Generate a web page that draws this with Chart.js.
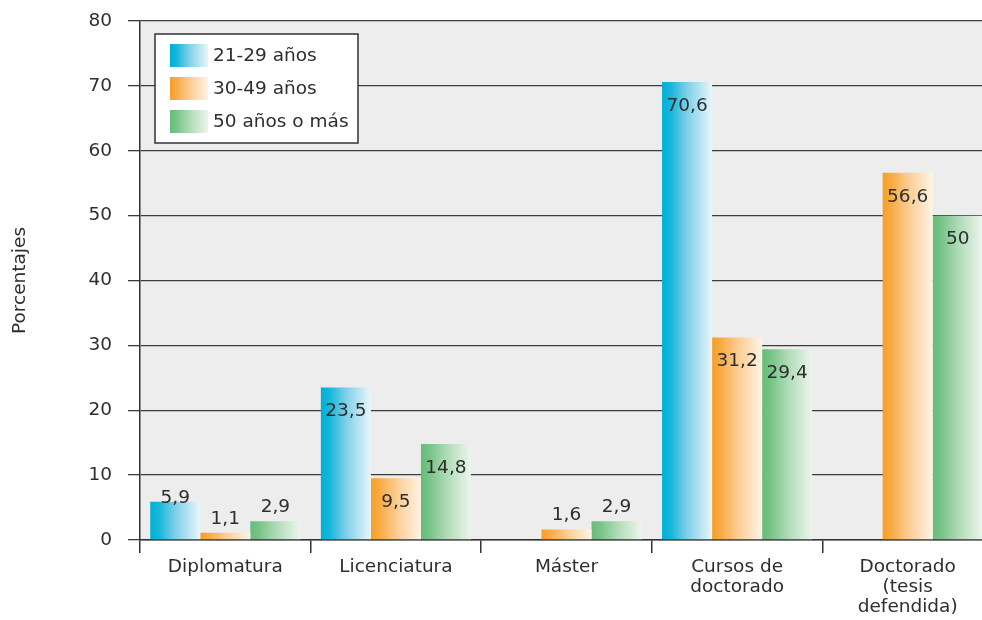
<!DOCTYPE html>
<html><head><meta charset="utf-8">
<script src="https://cdn.jsdelivr.net/npm/chart.js@4"></script>
<style>html,body{margin:0;padding:0;background:#fff;overflow:hidden}#wrap{width:993px;height:620px;position:relative}</style>
</head><body><div id="wrap"><canvas id="c"></canvas></div>
<script>
// ---- data ----
const categories = [["Diplomatura"], ["Licenciatura"], ["Máster"], ["Cursos de", "doctorado"], ["Doctorado", "(tesis", "defendida)"]];
const seriesNames = ["21-29 años", "30-49 años", "50 años o más"];
const values2129 = [5.9, 23.5, null, 70.6, null];
const values3049 = [1.1, 9.5, 1.6, 31.2, 56.6];
const values50 = [2.9, 14.8, 2.9, 29.4, 50];
const yMin = 0, yMax = 80, yStep = 10;
const yTitle = "Porcentajes";

// ---- styles ----
const FONT = "'DejaVu Sans', sans-serif";
const FS = 18.5;
const TXT = '#2e2e2e';
const gradStops = [
  [[0, '#00b0d6'], [0.18, '#16b7da'], [0.5, '#7fcfe8'], [1, '#e9f6fb']],
  [[0, '#f79f26'], [0.18, '#f8ab45'], [0.5, '#fbcb8f'], [1, '#fff4e6']],
  [[0, '#66bd78'], [0.18, '#78c488'], [0.5, '#acdab4'], [1, '#edf6ed']]
];
const baseColors = ['#00b0d6', '#f79f26', '#66bd78'];

function makeGrad(ctx, x0, x1, stops) {
  const g = ctx.createLinearGradient(x0, 0, x1, 0);
  stops.forEach(s => g.addColorStop(s[0], s[1]));
  return g;
}

const plotBg = {
  id: 'plotBg',
  beforeDraw(chart) {
    const {ctx, chartArea: a} = chart;
    ctx.save();
    ctx.fillStyle = '#ededed';
    ctx.fillRect(a.left, a.top, a.right - a.left, a.bottom - a.top);
    ctx.restore();
  }
};

const barGrad = {
  id: 'barGrad',
  beforeDatasetsDraw(chart) {
    const ctx = chart.ctx;
    chart.data.datasets.forEach((ds, di) => {
      chart.getDatasetMeta(di).data.forEach(el => {
        if (!el || el.x == null || isNaN(el.x)) return;
        el.options.backgroundColor = makeGrad(ctx, el.x - el.width / 2, el.x + el.width / 2, gradStops[di]);
      });
    });
  }
};

const valueLabels = {
  id: 'valueLabels',
  afterDatasetsDraw(chart) {
    const ctx = chart.ctx;
    ctx.save();
    ctx.font = FS + 'px ' + FONT;
    ctx.fillStyle = TXT;
    ctx.textAlign = 'center';
    ctx.textBaseline = 'middle';
    chart.data.datasets.forEach((ds, di) => {
      chart.getDatasetMeta(di).data.forEach((el, i) => {
        const v = ds.data[i];
        if (v == null) return;
        const h = el.base - el.y;
        let y;
        if (h > 45) y = el.y + 24;
        else if (h > 30) y = el.y - 4;
        else y = el.y - 14;
        ctx.fillText(String(v).replace('.', ','), el.x, y);
      });
    });
    ctx.restore();
  }
};

const boxLegend = {
  id: 'boxLegend',
  afterDatasetsDraw(chart) {
    const {ctx, chartArea: a} = chart;
    const bx = a.left + 15, by = a.top + 13, bw = 203, bh = 109;
    ctx.save();
    ctx.fillStyle = '#ffffff';
    ctx.fillRect(bx, by, bw, bh);
    ctx.strokeStyle = '#333333';
    ctx.lineWidth = 1.5;
    ctx.strokeRect(bx, by, bw, bh);
    ctx.font = FS + 'px ' + FONT;
    ctx.textBaseline = 'middle';
    ctx.textAlign = 'left';
    seriesNames.forEach((name, i) => {
      const sx = bx + 15, sy = by + 10 + i * 33, sw = 38, sh = 23;
      ctx.fillStyle = makeGrad(ctx, sx, sx + sw, gradStops[i]);
      ctx.fillRect(sx, sy, sw, sh);
      ctx.fillStyle = TXT;
      ctx.fillText(name, sx + sw + 5, sy + sh / 2 + 1);
    });
    ctx.restore();
  }
};

const datasets = [values2129, values3049, values50].map((vals, i) => ({
  label: seriesNames[i],
  data: vals,
  backgroundColor: () => baseColors[i],
  borderWidth: 0,
  categoryPercentage: 0.88,
  barPercentage: 1.0
}));

new Chart(document.getElementById('c'), {
  type: 'bar',
  data: { labels: categories, datasets },
  options: {
    responsive: true,
    maintainAspectRatio: false,
    animation: false,
    layout: { padding: { top: 21, right: 0, bottom: 0, left: 0 } },
    plugins: { legend: { display: false }, tooltip: { enabled: false } },
    scales: {
      x: {
        grid: { display: true, offset: true, drawOnChartArea: false, drawTicks: true, tickLength: 13, color: '#333333', lineWidth: 1.5 },
        border: { display: true, color: '#333333', width: 1.5 },
        ticks: { color: TXT, font: { family: FONT, size: FS, lineHeight: 1.08 }, padding: 4, maxRotation: 0, autoSkip: false },
        afterFit(scale) { scale.height = 80; scale.paddingLeft = 0; scale.paddingRight = 0; }
      },
      y: {
        min: yMin, max: yMax,
        grid: { color: '#3c3c3c', lineWidth: 1.3, drawTicks: true, tickLength: 12 },
        border: { display: true, color: '#333333', width: 1.5 },
        ticks: { stepSize: yStep, color: TXT, font: { family: FONT, size: FS }, padding: 16 },
        title: { display: true, text: yTitle, color: TXT, font: { family: FONT, size: FS }, padding: { top: 9, bottom: 0 } },
        afterFit(scale) { scale.width = 140; scale.paddingTop = 0; scale.paddingBottom = 0; }
      }
    }
  },
  plugins: [plotBg, barGrad, valueLabels, boxLegend]
});
</script></body></html>
